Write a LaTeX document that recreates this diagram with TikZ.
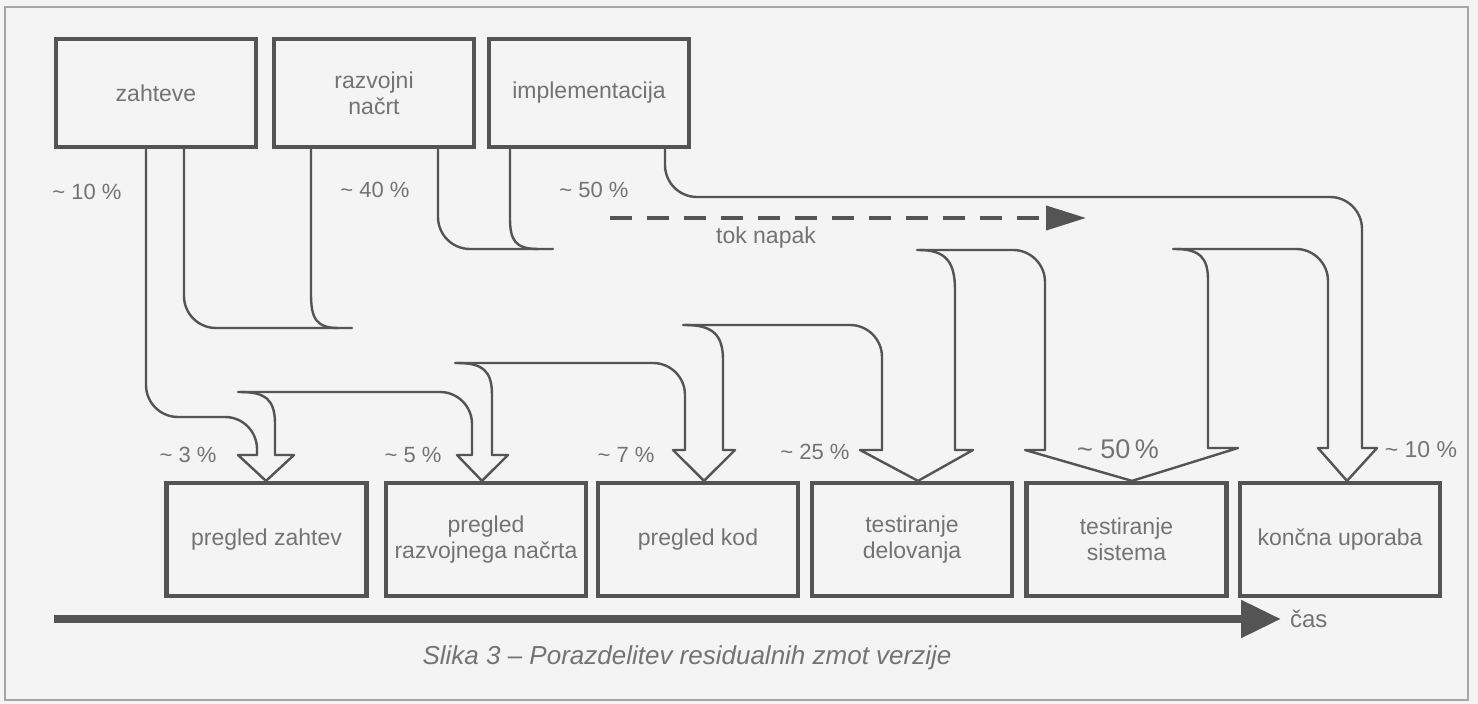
\documentclass[tikz,border=0pt]{standalone}
\usepackage{fontspec}
\setmainfont{Liberation Sans}
\usetikzlibrary{arrows.meta,positioning}
\definecolor{ink}{gray}{0.33}
\definecolor{txt}{gray}{0.45}
\definecolor{paper}{gray}{0.955}

\begin{document}
\begin{tikzpicture}[x=0.5pt,y=-0.5pt]
	\tikzset{box/.style={draw=ink,line width=2.1pt,text=txt,minimum width=100pt,inner xsep=2pt,align=center,font=\fontsize{11.5}{13}\selectfont}}
	\tikzset{src/.style={box,minimum height=54pt}}
	\tikzset{dst/.style={box,minimum height=56.5pt}}
	\tikzset{band/.style={draw=ink,line width=1.2pt,line cap=round,line join=round}}
	\tikzset{bandr/.style={band,rounded corners=16pt}}
	\tikzset{pct/.style={text=txt,font=\fontsize{11}{13}\selectfont,inner sep=0pt}}
	\tikzset{lbl/.style={text=txt,font=\fontsize{11.5}{13}\selectfont}}

	\fill[paper] (0,0) rectangle (1478,704);
	\draw[gray!70,line width=0.9pt] (5,7) rectangle (1468,700);

	\node[src] (zahteve) at (156,93) {zahteve};
	\node[src] (razvoj) at (374,93) {razvojni\\načrt};
	\node[src] (impl) at (589,93) {implementacija};

	\node[dst] (pzahtev) at (266.5,539.5) {pregled zahtev};
	\node[dst] (prazvoj) at (486,539.5) {pregled\\razvojnega načrta};
	\node[dst] (pkod) at (698,539.5) {pregled kod};
	\node[dst] (tdelov) at (912,539.5) {testiranje\\delovanja};
	\node[dst] (tsist) at (1126.5,539.5) {testiranje\\sistema};
	\node[dst] (koncna) at (1340,539.5) {končna uporaba};

	\draw[bandr] (zahteve.south -| 146,0) -- (146,417) -- (257,417) -- (257,455);
	\draw[bandr] (zahteve.south -| 184,0) -- (184,328) -- (352,328);
	\draw[band] (razvoj.south -| 311,0) -- (311,294) .. controls (311,318) and (316,328) .. (338,328);
	\draw[bandr] (razvoj.south -| 438,0) -- (438,249) -- (553,249);
	\draw[band] (impl.south -| 510,0) -- (510,218) .. controls (510,240) and (515,249) .. (538,249);
	\draw[bandr] (impl.south -| 665,0) -- (665,197) -- (1362,197) -- (1362,448);

	\draw[bandr] (238,392) -- (472,392) -- (472,455);
	\draw[band] (240,392) .. controls (266,392) and (275,400) .. (275,424) -- (275,455);
	\draw[bandr] (455,363) -- (685,363) -- (685,450);
	\draw[band] (457,363) .. controls (483,363) and (492,371) .. (492,395) -- (492,455);
	\draw[bandr] (683,325) -- (882,325) -- (882,450);
	\draw[band] (685,325) .. controls (713,325) and (723,335) .. (723,360) -- (723,450);
	\draw[bandr] (917,250) -- (1045,250) -- (1045,450);
	\draw[band] (919,250) .. controls (946,250) and (955,262) .. (955,290) -- (955,450);
	\draw[bandr] (1173,249) -- (1328,249) -- (1328,448);
	\draw[band] (1175,249) .. controls (1200,249) and (1208,258) .. (1208,280) -- (1208,448);

	\draw[band] (257,455) -- (238,455) -- (pzahtev.north -| 266,0) -- (294,455) -- (275,455);
	\draw[band] (472,455) -- (457,455) -- (prazvoj.north -| 482,0) -- (508,455) -- (492,455);
	\draw[band] (685,450) -- (673,450) -- (pkod.north -| 704,0) -- (735,450) -- (723,450);
	\draw[band] (882,450) -- (860,450) -- (tdelov.north -| 918,0) -- (973,450) -- (955,450);
	\draw[band] (1045,450) -- (1025,450) -- (tsist.north -| 1132,0) -- (1238,448) -- (1208,448);
	\draw[band] (1328,448) -- (1318,448) -- (koncna.north -| 1347,0) -- (1377,448) -- (1362,448);

	\node[pct] (p10) at (87,192) {\textasciitilde{} 10 \%};
	\node[pct] (p40) at (375,190) {\textasciitilde{} 40 \%};
	\node[pct] (p50) at (594,190) {\textasciitilde{} 50 \%};
	\node[pct] (p3) at (188,455) {\textasciitilde{} 3 \%};
	\node[pct] (p5) at (413,455) {\textasciitilde{} 5 \%};
	\node[pct] (p7) at (626,455) {\textasciitilde{} 7 \%};
	\node[pct] (p25) at (815,452) {\textasciitilde{} 25 \%};
	\node[pct,font=\fontsize{13.5}{15}\selectfont] (p50b) at (1118,449) {\textasciitilde{} 50\,\%};
	\node[pct,font=\fontsize{11.5}{13}\selectfont] (p10b) at (1421,450) {\textasciitilde{} 10 \%};

	\coordinate (tok0) at (610,218);
	\coordinate (tok1) at (1086,218);
	\draw[ink,line width=2pt,dash pattern=on 11pt off 7.5pt,-{Triangle[length=20pt,width=12pt]}] (tok0) -- (tok1);
	\node[lbl] (tok) at (766,238) {tok napak};

	\coordinate (t0) at (54,619);
	\coordinate (t1) at (1281,619);
	\draw[ink,line width=4.2pt,-{Triangle[length=20pt,width=18pt]}] (t0) -- (t1);
	\node[lbl,font=\fontsize{12}{14}\selectfont,right=1pt of t1] (cas) {čas};

	\node[text=txt,font=\itshape\fontsize{13}{15}\selectfont] (slika) at (687,658) {Slika 3 – Porazdelitev residualnih zmot verzije};
\end{tikzpicture}
\end{document}
